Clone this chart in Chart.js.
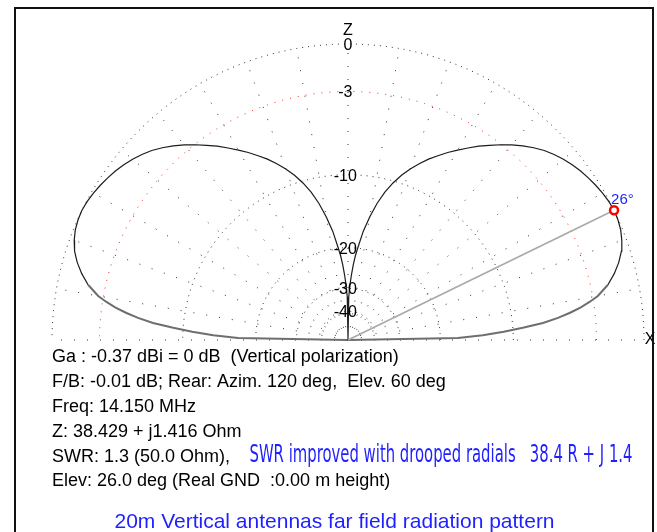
<!DOCTYPE html>
<html><head><meta charset="utf-8">
<script src="https://cdn.jsdelivr.net/npm/chart.js@4/dist/chart.umd.min.js"></script>
<style>html,body{margin:0;padding:0;background:#fff;overflow:hidden}canvas{display:block}</style>
</head><body>
<canvas id="c" width="657" height="532"></canvas>
<script>
// ---------------- data ----------------
const ringDb = [0, -3, -10, -20, -30, -40];
const ringLabels = ['0', '-3', '-10', '-20', '-30', '-40'];
const spokeDeg = [0, 10, 20, 30, 40, 50, 60, 70, 80, 90, 100, 110, 120, 130, 140, 150, 160, 170, 180];

const elevDeg = [
  0, 1, 2, 3, 4, 5, 6, 7, 8, 9, 10, 12, 14, 16, 18, 20, 22, 24, 26, 28,
  30, 32, 34, 36, 38, 40, 42, 44, 46, 48, 50, 52, 54, 56, 58, 60, 62, 64, 66, 68,
  70, 72, 74, 76, 78, 80, 82, 84, 85, 86, 87, 88, 89, 90,
  91, 92, 93, 94, 95, 96, 98, 100, 102, 104, 106, 108, 110, 112, 114, 116, 118, 120,
  122, 124, 126, 128, 130, 132, 134, 136, 138, 140, 142, 144, 146, 148, 150, 152, 154,
  156, 158, 160, 162, 164, 166, 168, 170, 171, 172, 173, 174, 175, 176, 177, 178, 179, 180
];
const gainDb = [
  -99, -17, -13.5, -11, -9, -7.1, -5.8, -4.8, -3.95, -3.25, -2.65, -1.85, -1.3, -0.85, -0.5, -0.27, -0.11, -0.03, 0, -0.04,
  -0.12, -0.23, -0.36, -0.5, -0.68, -0.88, -1.12, -1.4, -1.75, -2.15, -2.58, -3.05, -3.55, -4.05, -4.6, -5.15, -5.7, -6.3, -6.9, -7.6,
  -8.35, -9.2, -10.2, -11.4, -12.9, -14.8, -17.0, -20.0, -21.5, -23.5, -26, -29, -33, -99,
  -33, -29, -26, -23.5, -21.5, -20.0, -17.0, -14.8, -12.9, -11.4, -10.2, -9.2, -8.35, -7.6, -6.9, -6.3, -5.7, -5.15,
  -4.6, -4.05, -3.55, -3.05, -2.58, -2.15, -1.75, -1.4, -1.12, -0.88, -0.68, -0.5, -0.36, -0.23, -0.12, -0.04, 0,
  -0.03, -0.11, -0.27, -0.5, -0.85, -1.3, -1.85, -2.65, -3.25, -3.95, -4.8, -5.8, -7.1, -9, -11, -13.5, -17, -99
];

const maxElevDeg = 26;
const maxGainDb = 0;
const maxLabel = '26°';
const axisNames = ['Z', 'X'];

const infoLines = [
  'Ga : -0.37 dBi = 0 dB  (Vertical polarization)',
  'F/B: -0.01 dB; Rear: Azim. 120 deg,  Elev. 60 deg',
  'Freq: 14.150 MHz',
  'Z: 38.429 + j1.416 Ohm',
  'SWR: 1.3 (50.0 Ohm),',
  'Elev: 26.0 deg (Real GND  :0.00 m height)'
];
const noteText = 'SWR improved with drooped radials   38.4 R + J 1.4';
const titleText = '20m Vertical antennas far field radiation pattern';

// ---------------- layout ----------------
const W = 657, H = 532;
const CX = 348, CY = 340, RPX = 296;   // plot centre and outer-ring radius (px)

// ARRL-style log radial scale
function radFrac(db) { return Math.pow(0.89, -db / 2); }
function polar(deg, db) {
  const f = radFrac(db), a = deg * Math.PI / 180;
  return { x: f * Math.cos(a), y: f * Math.sin(a) };
}

const datasets = [];
// rings
ringDb.forEach(db => {
  const pts = [];
  for (let a = 0; a <= 180; a += 1) pts.push(polar(a, db));
  const red = db === -3;
  datasets.push({
    data: pts, showLine: true, pointRadius: 0, tension: 0,
    borderColor: red ? '#ff2a2a' : '#333333', borderWidth: 1,
    borderDash: red ? [1, 7] : [1, 5], order: 20
  });
});
// spokes
spokeDeg.forEach(a => {
  datasets.push({
    data: [{ x: 0, y: 0 }, polar(a, 0)], showLine: true, pointRadius: 0,
    borderColor: '#333333', borderWidth: 1, borderDash: [1, 12], order: 21
  });
});
// pattern
const isLow = i => elevDeg[i] < 13 || elevDeg[i] > 167;
datasets.push({
  data: elevDeg.map((a, i) => polar(a, gainDb[i])),
  showLine: true, pointRadius: 0, tension: 0, order: 5,
  borderColor: '#1c1c1c', borderWidth: 1.2,
  segment: {
    borderColor: c => (isLow(c.p0DataIndex) && isLow(c.p1DataIndex)) ? '#6e6e6e' : '#1c1c1c',
    borderWidth: c => (isLow(c.p0DataIndex) && isLow(c.p1DataIndex)) ? 2 : 1.2
  }
});
// max direction line
const maxPt = polar(maxElevDeg, maxGainDb);
datasets.push({
  data: [{ x: 0, y: 0 }, maxPt], showLine: true, pointRadius: 0,
  borderColor: '#a8a8a8', borderWidth: 1.5, order: 4
});
// marker
datasets.push({
  data: [maxPt], showLine: false, pointRadius: 4, pointStyle: 'circle',
  pointBackgroundColor: '#ffffff', pointBorderColor: '#ff0000', pointBorderWidth: 2.5, order: 1
});

const textPlugin = {
  id: 'texts',
  beforeDraw(chart) {
    const ctx = chart.ctx;
    ctx.save(); ctx.fillStyle = '#fff'; ctx.fillRect(0, 0, W, H); ctx.restore();
  },
  afterDraw(chart) {
    const ctx = chart.ctx;
    const xs = chart.scales.x, ys = chart.scales.y;
    const px = v => xs.getPixelForValue(v), py = v => ys.getPixelForValue(v);
    const cx = px(0), cy = py(0);
    ctx.save();
    // ring labels
    ctx.font = '16px "Liberation Sans", Arial, sans-serif';
    ctx.fillStyle = '#000';
    ctx.textBaseline = 'middle';
    ctx.textAlign = 'left';
    ringDb.forEach((db, i) => {
      const lab = ringLabels[i];
      const body = lab.replace('-', '');
      const wb = ctx.measureText(body).width;
      const wm = lab.startsWith('-') ? ctx.measureText('-').width : 0;
      ctx.fillText(lab, cx - wb / 2 - wm, py(radFrac(db)) + 1.5);
    });
    // axis names
    ctx.textAlign = 'center';
    ctx.fillText(axisNames[0], cx, py(1) - 13);
    ctx.fillText(axisNames[1], px(1) + 6, cy);
    // max label
    ctx.fillStyle = '#1f1fff';
    ctx.font = '15px "Liberation Sans", Arial, sans-serif';
    ctx.textAlign = 'left';
    ctx.fillText(maxLabel, px(maxPt.x) - 3, py(maxPt.y) - 10);
    // info lines
    ctx.fillStyle = '#000';
    ctx.font = '18px "Liberation Sans", Arial, sans-serif';
    ctx.textAlign = 'left';
    infoLines.forEach((t, i) => ctx.fillText(t, 52, 357 + i * 24.9));
    // condensed blue note
    ctx.fillStyle = '#1f1fff';
    ctx.font = '25px "Liberation Sans Narrow", "DejaVu Sans Condensed", Arial, sans-serif';
    const nw = ctx.measureText(noteText).width;
    const target = 383;
    ctx.save();
    ctx.translate(249.5, 455);
    ctx.scale(target / nw, 1);
    ctx.fillText(noteText, 0, 0);
    ctx.restore();
    // title
    ctx.font = '21px "Liberation Sans", Arial, sans-serif';
    ctx.textAlign = 'center';
    ctx.fillText(titleText, 334.5, 522);
    // frame
    ctx.strokeStyle = '#111';
    ctx.lineWidth = 2;
    ctx.beginPath();
    ctx.moveTo(15, H); ctx.lineTo(15, 8); ctx.lineTo(653, 8); ctx.lineTo(653, H);
    ctx.stroke();
    ctx.restore();
  }
};

new Chart(document.getElementById('c'), {
  type: 'scatter',
  data: { datasets },
  options: {
    responsive: false, animation: false, devicePixelRatio: 1, events: [],
    layout: { padding: 0, autoPadding: false },
    plugins: { legend: { display: false }, tooltip: { enabled: false }, title: { display: false } },
    scales: {
      x: { type: 'linear', display: false, min: -CX / RPX, max: (W - CX) / RPX },
      y: { type: 'linear', display: false, min: -(H - CY) / RPX, max: CY / RPX }
    }
  },
  plugins: [textPlugin]
});
</script>
</body></html>
